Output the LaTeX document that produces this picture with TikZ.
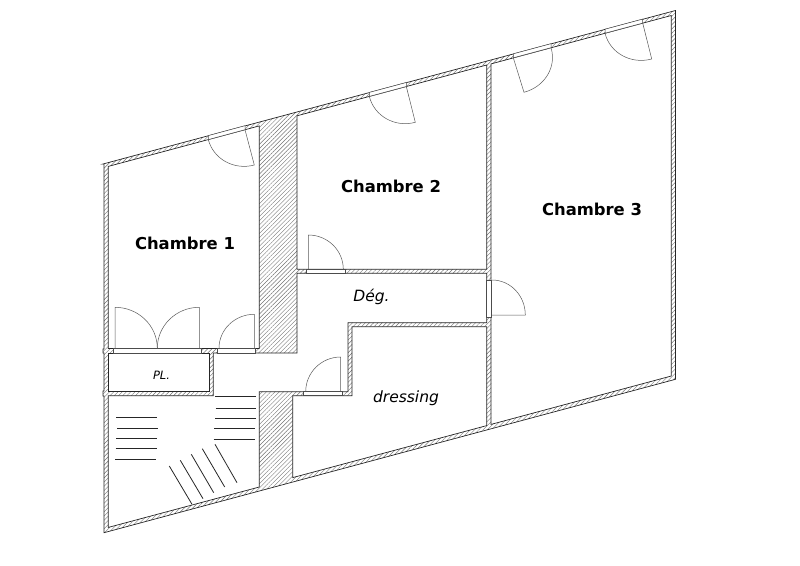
\documentclass[tikz,border=0pt]{standalone}
\usepackage{fontspec}
\setmainfont{DejaVu Sans}
\usetikzlibrary{patterns.meta}
\tikzset{
  wallhatch/.style={pattern={Lines[angle=45,distance=3pt,line width=0.4pt]},pattern color=black!55},
  wallline/.style={draw=black!85,line width=0.7pt,line join=miter},
  doorleafline/.style={draw=black!65,line width=0.5pt},
  openingbox/.style={fill=white,draw=black!70,line width=0.5pt},
  stairline/.style={draw=black!85,line width=0.8pt},
  roomlabel/.style={font=\bfseries\fontsize{16.4}{18}\selectfont,inner sep=0pt},
  smalllabel/.style={font=\itshape\fontsize{15.5}{17}\selectfont,inner sep=0pt},
}
\newcommand{\doorleaf}[6]{\draw[doorleafline] (#1,#2) -- (#3,#4) .. controls ({#3+0.5523*(#5-#1)},{#4+0.5523*(#6-#2)}) and ({#5+0.5523*(#3-#1)},{#6+0.5523*(#4-#2)}) .. (#5,#6);}
\begin{document}
\begin{tikzpicture}[x=1pt,y=-1pt]
\useasboundingbox (0,0) rectangle (800,565);
\def\outerwall{(103,164) -- (675.5,10.5) -- (675.5,379.3) -- (104,532.7) -- (104,396) -- (103,396) -- (103,391) -- (104,391) -- (104,353) -- (103,353) -- (103,349) -- (104,349) -- (104,164) -- cycle}
\def\roomA{(108.3,166.4) -- (259.3,125.9) -- (259.3,348.5) -- (108.3,348.5) -- cycle}
\def\roomB{(297,115.8) -- (486.7,65) -- (486.7,269.3) -- (297,269.3) -- cycle}
\def\roomC{(491,63.9) -- (671.3,15.5) -- (671.3,376) -- (491,424.4) -- cycle}
\def\roomD{(352,326.7) -- (486.7,326.7) -- (486.7,425.6) -- (292.7,477.6) -- (292.7,395.7) -- (352,395.7) -- cycle}
\def\roomE{(297,273.3) -- (486.7,273.3) -- (486.7,322.7) -- (348,322.7) -- (348,391.7) -- (259.3,391.7) -- (259.3,487) -- (108.3,527.4) -- (108.3,395.7) -- (213.3,395.7) -- (213.3,353) -- (297,353) -- cycle}
\def\roomF{(108.3,353) -- (209,353) -- (209,391) -- (108.3,391) -- cycle}
% walls
\path[wallhatch,even odd rule] \outerwall \roomA \roomB \roomC \roomD \roomE \roomF;
\draw[wallline] \outerwall;
\draw[wallline] \roomA;
\draw[wallline] \roomB;
\draw[wallline] \roomC;
\draw[wallline] \roomD;
\draw[wallline] \roomE;
\draw[wallline] \roomF;
% openings
\draw[openingbox] (208.3,139.6) -- (245,129.7) -- (245,125.7) -- (208.3,135.6) -- cycle;
\draw[openingbox] (369.3,96.4) -- (406.3,86.5) -- (406.3,82.5) -- (369.3,92.4) -- cycle;
\draw[openingbox] (513.3,57.8) -- (551,47.7) -- (551,43.7) -- (513.3,53.8) -- cycle;
\draw[openingbox] (605,33.2) -- (642.7,23.1) -- (642.7,19.1) -- (605,29.2) -- cycle;
\draw[openingbox] (113.3,348.5) rectangle (201.7,353);
\draw[openingbox] (217.7,348.5) rectangle (255,353);
\draw[openingbox] (306.7,269.3) rectangle (345,273.3);
\draw[openingbox] (303.3,391.7) rectangle (342.7,395.7);
\draw[openingbox] (486.7,280) rectangle (491,317.3);
% doors
\doorleaf{245}{129.7}{254.3}{165}{208.3}{139.6}
\doorleaf{406.3}{86.5}{415.3}{122.3}{369.3}{96.4}
\doorleaf{513.3}{57.8}{524}{92.3}{551}{47.7}
\doorleaf{642.7}{23.1}{651.7}{59}{605}{33.2}
\doorleaf{115}{348.3}{115}{307.3}{157.3}{348.3}
\doorleaf{199.3}{348.3}{199.3}{307.3}{157.3}{348.3}
\doorleaf{254.3}{348.3}{254.3}{314.3}{219}{348.3}
\doorleaf{308.3}{269.3}{308.3}{235}{343.3}{269.3}
\doorleaf{340.7}{391.7}{340.7}{357}{305.7}{391.7}
\doorleaf{492}{315}{525.3}{315}{492}{280}
% stairs
\foreach \xa/\ya/\xb/\yb in {
  116.3/417/157.3/417, 117/428.3/158/428.3, 116.3/438.3/157.3/438.3, 115.7/448/156.7/448, 115/459.3/156/459.3,
  215/396.7/255.7/396.7, 215.7/408/256.3/408, 215/418.3/255.7/418.3, 214.3/428/255/428, 213.7/439.3/254.7/439.3,
  169.3/466/192/504.3, 180.3/460.3/203/498.7, 191.3/454.3/213.7/492.7, 202.3/448.7/224.7/487, 215/444.3/237/482.7}
  {\draw[stairline] (\xa,\ya) -- (\xb,\yb);}
% labels
\node[roomlabel] (c1) at (185,243) {Chambre 1};
\node[roomlabel] (c2) at (391,186) {Chambre 2};
\node[roomlabel] (c3) at (592,209) {Chambre 3};
\node[smalllabel] (deg) at (371.5,297) {Dég.};
\node[smalllabel] (dress) at (406,398) {dressing};
\node[smalllabel,font=\itshape\fontsize{11.5}{13}\selectfont] (pl) at (161.5,375) {PL.};
\end{tikzpicture}
\end{document}
